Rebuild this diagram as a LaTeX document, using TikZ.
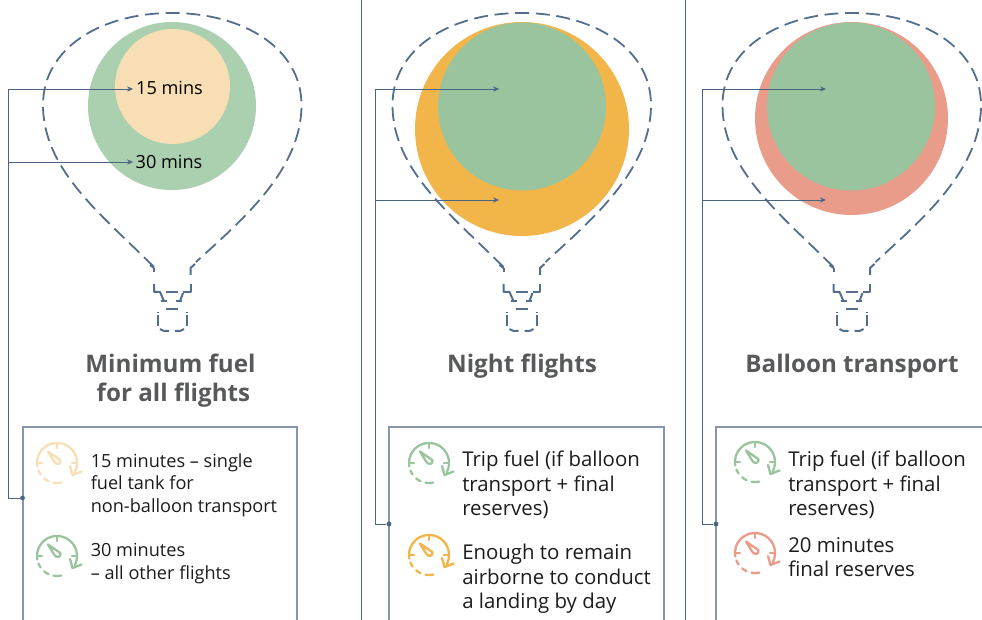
\documentclass[tikz,border=0pt]{standalone}
\usepackage{fontspec}
\setmainfont{Open Sans}
\usetikzlibrary{arrows.meta}
\definecolor{lineblue}{HTML}{4A6484}
\definecolor{dashblue}{HTML}{546E8D}
\definecolor{boxblue}{HTML}{8796AC}
\definecolor{pale}{HTML}{F8DEB4}
\definecolor{midgreen}{HTML}{ABD0AF}
\definecolor{deepgreen}{HTML}{9AC49D}
\definecolor{amber}{HTML}{F2B549}
\definecolor{coral}{HTML}{EA9C8A}
\definecolor{titlegrey}{HTML}{58595B}
\definecolor{bodyink}{HTML}{1C1C1C}
\tikzset{
  x=0.75pt,y=-0.75pt,
  outl/.style={draw=dashblue,line width=1.35pt,dash pattern=on 10.5pt off 5pt},
  neck/.style={draw=dashblue,line width=1.5pt,line join=round},
  lead/.style={draw=lineblue,line width=0.6pt},
  leadarrow/.style={lead,-{Stealth[length=4.5pt,width=4pt]}},
  panelbox/.style={draw=boxblue,line width=0.8pt},
  sep/.style={draw=lineblue,line width=0.6pt},
  dotnode/.style={circle,fill=lineblue,inner sep=0pt,minimum size=3.6pt},
  titletext/.style={text=titlegrey,align=center,font=\fontsize{18.15}{21.8}\selectfont\bfseries,inner sep=0pt},
  smalltext/.style={text=bodyink,align=left,anchor=north west,inner sep=0pt,font=\fontsize{13.6}{16.9}\selectfont},
  bigtext/.style={text=bodyink,align=left,anchor=north west,inner sep=0pt,font=\fontsize{15.3}{18.4}\selectfont},
  circtext/.style={text=black,inner sep=0pt,font=\fontsize{13.6}{16}\selectfont},
  pics/gauge/.style={code={
    \begin{scope}[draw=#1,line width=1.75pt,line cap=round,line join=round]
      \draw plot[domain=170:388,samples=40] ({20*cos(\x)},{20*sin(\x)});
      \draw plot[domain=78:100,samples=6] ({20*cos(\x)},{20*sin(\x)});
      \draw plot[domain=115:130,samples=6] ({20*cos(\x)},{20*sin(\x)});
      \draw plot[domain=145:158,samples=6] ({20*cos(\x)},{20*sin(\x)});
      \draw (13,3) -- (15.5,12) -- (24.5,8.5);
      \draw (0,-20) -- (0,-15);
      \draw (-20,0) -- (-15,0);
      \draw (20,0) -- (15,0);
      \draw (-9,-11.5) -- (-3.2,-2) .. controls (-1.5,2.5) and (4.5,1.5) .. (3.5,-2.8) -- cycle;
    \end{scope}
  }},
  pics/balloon/.style={code={
    \draw[outl] (-18,267) .. controls (-70,215) and (-129,170) .. (-129,105)
      .. controls (-129,48) and (-71,13) .. (0,13)
      .. controls (71,13) and (129.5,48) .. (129.5,105)
      .. controls (129.5,170) and (70,220) .. (24,262);
    \begin{scope}[neck]
      \draw (23,264) -- (18.5,268) -- (18.5,275);
      \draw (18.5,284) -- (18.5,292) -- (11,292);
      \draw (-6,292) -- (6,292);
      \draw (-18,268) -- (-18,272);
      \draw (-18,268) -- (-22,265);
      \draw (-18,284) -- (-18,292) -- (-12,292) -- (-8,301);
      \draw (-11,301) -- (-5,301);
      \draw (4,301) -- (10,301);
      \draw (11,293) -- (8,301);
      \draw (-6,309.5) -- (6,309.5);
      \draw (-14.5,315) -- (-14.5,326);
      \draw (15,315) -- (15,326);
      \draw (-14.5,312) -- (-14.5,313);
      \draw (15,312) -- (15,313);
      \draw (-12,329) .. controls (-10,331) and (-8,331) .. (-3,331);
      \draw (12,329) .. controls (10,331) and (8,331) .. (3,331);
    \end{scope}
  }}
}
\begin{document}
\begin{tikzpicture}
\useasboundingbox (0,0) rectangle (982,620);
% separators
\coordinate (s1t) at (361,0); \coordinate (s1b) at (361,620);
\coordinate (s2t) at (685,0); \coordinate (s2b) at (685,620);
\draw[sep] (s1t) -- (s1b);
\draw[sep] (s2t) -- (s2b);
% circles
\fill[midgreen] (172,106) circle[radius=84];
\fill[pale] (172.5,86.5) circle[radius=57.5];
\fill[amber] (522,129) circle[radius=107];
\fill[deepgreen] (522,106.5) circle[radius=84];
\fill[coral] (851.5,118.5) circle[radius=96.5];
\fill[deepgreen] (851,106.5) circle[radius=84];
% balloons
\pic at (172,0) {balloon};
\pic at (521.5,0) {balloon};
\pic at (851.5,0) {balloon};
% titles
\node[titletext] (t1) at (170.5,363.5) {Minimum fuel};
\node[titletext] (t1b) at (173.5,395) {for all flights};
\node[titletext] (t2) at (522,366) {Night flights};
\node[titletext] (t3) at (852,366) {Balloon transport};
% circle labels
\node[circtext] (m15) at (169.5,88) {15 mins};
\node[circtext] (m30) at (169,162) {30 mins};
% boxes
\coordinate (b1a) at (23,620); \coordinate (b1b) at (23,427); \coordinate (b1c) at (297,427); \coordinate (b1d) at (297,620);
\coordinate (b2a) at (389,620); \coordinate (b2b) at (389,427); \coordinate (b2c) at (664,427); \coordinate (b2d) at (664,620);
\coordinate (b3a) at (716,620); \coordinate (b3b) at (716,427); \coordinate (b3c) at (982,427);
\draw[panelbox] (b1a) -- (b1b) -- (b1c) -- (b1d);
\draw[panelbox] (b2a) -- (b2b) -- (b2c) -- (b2d);
\draw[panelbox] (b3a) -- (b3b) -- (b3c);
% leader lines
\node[dotnode] (d1) at (22.5,498) {};
\node[dotnode] (d2) at (389,524) {};
\node[dotnode] (d3) at (716,524) {};
\coordinate (c1a) at (8,89);  \coordinate (c1b) at (8,162); \coordinate (c1c) at (8,498);
\coordinate (c2a) at (375,89);\coordinate (c2b) at (375,200);\coordinate (c2c) at (375,524);
\coordinate (c3a) at (702,89);\coordinate (c3b) at (702,200);\coordinate (c3c) at (702,524);
\coordinate (e1a) at (133,89);\coordinate (e1b) at (133,162);
\coordinate (e2a) at (499,89);\coordinate (e2b) at (499,200);
\coordinate (e3a) at (826,89);\coordinate (e3b) at (826,200);
\draw[lead] (d1) -- (c1c) -- (c1a);
\draw[lead] (d2) -- (c2c) -- (c2a);
\draw[lead] (d3) -- (c3c) -- (c3a);
\draw[leadarrow] (c1a) -- (e1a);
\draw[leadarrow] (c1b) -- (e1b);
\draw[leadarrow] (c2a) -- (e2a);
\draw[leadarrow] (c2b) -- (e2b);
\draw[leadarrow] (c3a) -- (e3a);
\draw[leadarrow] (c3b) -- (e3b);
% gauges
\pic at (57,463) {gauge=pale};
\pic at (57,556) {gauge=deepgreen};
\pic at (429,463) {gauge=deepgreen};
\pic at (429,555) {gauge=amber};
\pic at (755,462) {gauge=deepgreen};
\pic at (755,553) {gauge=coral};
% body text
\node[smalltext] (x1) at (90.5,453) {15 minutes – single\\fuel tank for\\non-balloon transport};
\node[smalltext] (x2) at (90.5,543) {30 minutes\\– all other flights};
\node[bigtext] (x3) at (462,450.7) {Trip fuel (if balloon\\transport + final\\reserves)};
\node[bigtext] (x4) at (462,543.7) {Enough to remain\\airborne to conduct\\a landing by day};
\node[bigtext] (x5) at (788,450.7) {Trip fuel (if balloon\\transport + final\\reserves)};
\node[bigtext] (x6) at (788,537) {20 minutes\\final reserves};
\end{tikzpicture}
\end{document}
